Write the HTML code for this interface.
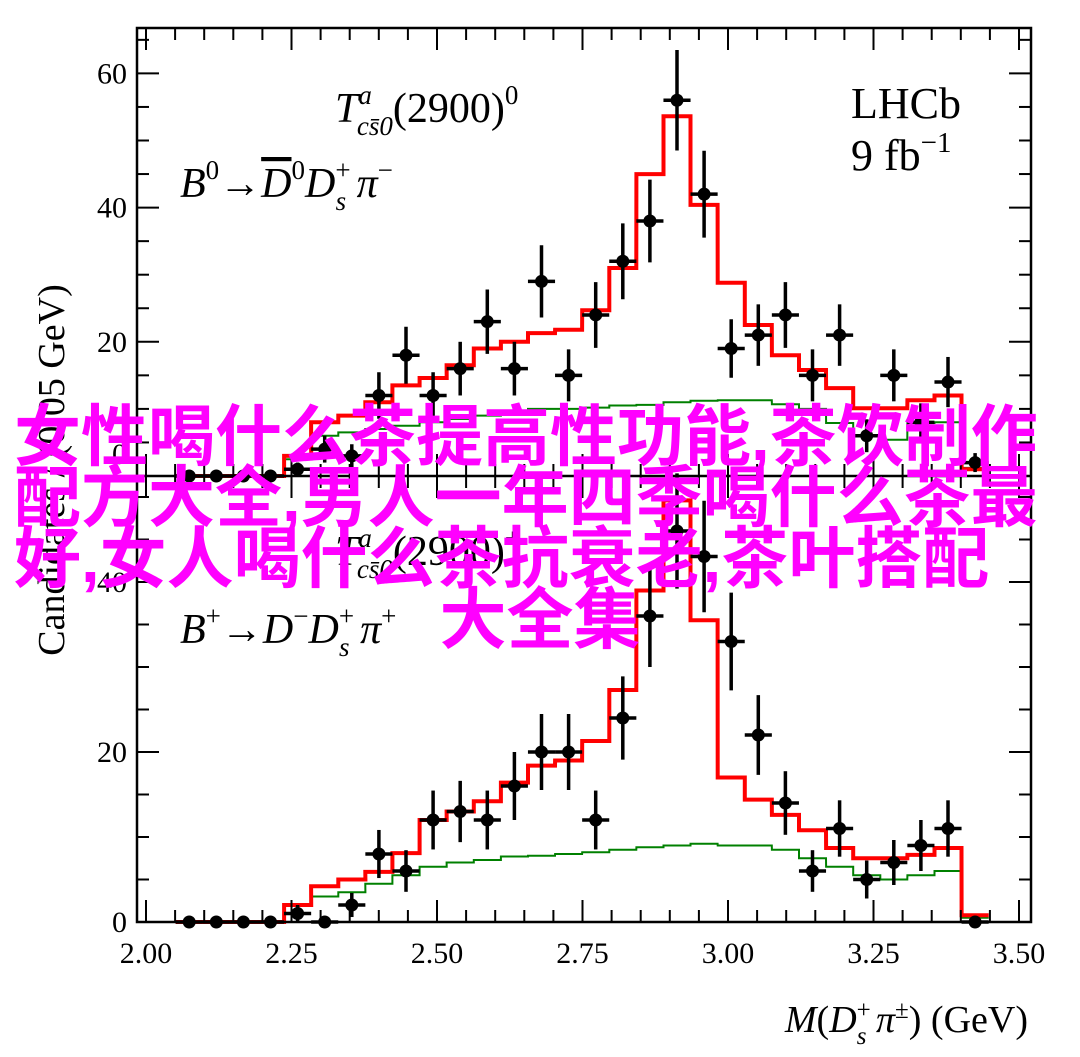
<!DOCTYPE html>
<html><head><meta charset="utf-8"><style>
html,body{margin:0;padding:0;background:#fff;width:1080px;height:1057px;overflow:hidden}
svg{position:absolute;left:0;top:0}
.ov{position:absolute;left:14px;top:407px;width:1066px;text-align:left;font-family:"Liberation Sans","Noto Sans CJK SC",sans-serif;font-weight:bold;font-size:67px;line-height:61px;color:#ff00ff;white-space:nowrap}
.c{display:block;text-align:center;width:1052px}
</style></head><body>
<svg id="s" width="1080" height="1057" xmlns="http://www.w3.org/2000/svg" font-family="Liberation Serif, serif"></svg>
<div class="ov">女性喝什么茶提高性功能,茶饮制作<br>配方大全,男人一年四季喝什么茶最<br>好,女人喝什么茶抗衰老,茶叶搭配<span class="c">大全集</span></div>
<script>
const s=document.getElementById('s');let h='';
const L=137,R=1031,T=28,M=476,B=922;
const xm=m=>146+(m-2)*582;
const cx=i=>189.2+27.1*i, hw=13.55;
const yt=v=>476-6.71*v, yb=v=>922-8.5*v;
function step(vals,yf,col,w){let d='';vals.forEach((v,i)=>{if(v===null)return;const a=cx(i)-hw,b=cx(i)+hw,y=yf(v);d+=(d?'L':'M')+a.toFixed(1)+','+y.toFixed(1)+'L'+b.toFixed(1)+','+y.toFixed(1);});h+=`<path d="${d}" fill="none" stroke="${col}" stroke-width="${w}"/>`;}
function pts(vals,yf){vals.forEach((v,i)=>{const x=cx(i),y=yf(v),e=Math.sqrt(v);h+=`<line x1="${x}" x2="${x}" y1="${yf(v+e)}" y2="${Math.min(yf(v-e),yf(0))}" stroke="#000" stroke-width="3.5"/><line x1="${x-hw}" x2="${x+hw}" y1="${y}" y2="${y}" stroke="#000" stroke-width="3.5"/><circle cx="${x}" cy="${y}" r="6.5" fill="#000"/>`;});}
const z=[0,0,0,0];
const tg=[...z,2.5,6,6.5,7,7.5,8,8.5,9,9.5,10,10,10.2,10.5,10.6,11,11.2,11.3,11.3,10.7,10,7.9,6.1,5.4,7.9,8,1.2];
const tr=[...z,3,8,9,11,13.5,14.6,16.5,19,20,21.3,21.8,24.7,31,45,53.6,40.4,28.8,22.5,18,15.8,13.1,10.1,10.1,11.3,12,1];
const tp=[0,0,0,0,1,4,3,12,18,12,16,23,16,29,15,24,32,38,56,42,19,21,24,15,21,6,15,8,14,2];
step(tg,yt,'#008000',2);step(tr,yt,'#ff0000',4);pts(tp,yt);
const bg=[...z,2,3,3.5,4.5,5.5,6.5,7,7.3,7.7,7.8,8,8.2,8.5,8.8,9,9.2,9,9,8.5,7.5,6.5,5.5,5,5.5,6,0.5];
const br=[...z,2,4.2,5,5.9,8.1,12,13,14.2,16.4,18.4,19,21.3,27.3,39,49.6,35.5,17,14.4,12.6,10.8,8.7,7.5,7.5,7.9,8.7,0.8];
const bp=[0,0,0,0,1,0,2,8,6,12,13,12,16,20,20,12,24,36,46,43,33,22,14,6,11,5,7,9,11,0];
step(bg,yb,'#008000',2);step(br,yb,'#ff0000',4);pts(bp,yb);
h+=`<rect x="${L}" y="${T}" width="${R-L}" height="${B-T}" fill="none" stroke="#000" stroke-width="2.5"/><line x1="${L}" x2="${R}" y1="${M}" y2="${M}" stroke="#000" stroke-width="2.5"/>`;
for(let k=0;k<=30;k++){const m=2+k*0.05,x=xm(m);if(x<L||x>R)continue;const big=k%5==0,l=big?22:12;
[M,B].forEach(y0=>{h+=`<line x1="${x}" x2="${x}" y1="${y0}" y2="${y0-l}" stroke="#000" stroke-width="2"/>`;});
[T,M].forEach(y0=>{h+=`<line x1="${x}" x2="${x}" y1="${y0}" y2="${y0+l}" stroke="#000" stroke-width="2"/>`;});
if(big)h+=`<text x="${x}" y="${B+41}" font-size="30" text-anchor="middle">${m.toFixed(2)}</text>`;}
for(let v=0;v<=65;v+=5){const y=yt(v);if(y<T)break;const l=v%20==0?22:12;h+=`<line x1="${L}" x2="${L+l}" y1="${y}" y2="${y}" stroke="#000" stroke-width="2"/><line x1="${R}" x2="${R-l}" y1="${y}" y2="${y}" stroke="#000" stroke-width="2"/>`;if(v%20==0&&v>0)h+=`<text x="${L-10}" y="${y+10}" font-size="30" text-anchor="end">${v}</text>`;}
h+=`<text x="${L-10}" y="${yt(0)-12}" font-size="30" text-anchor="end">0</text>`;
for(let v=0;v<=50;v+=5){const y=yb(v);if(y<M)break;const l=v%20==0?22:12;h+=`<line x1="${L}" x2="${L+l}" y1="${y}" y2="${y}" stroke="#000" stroke-width="2"/><line x1="${R}" x2="${R-l}" y1="${y}" y2="${y}" stroke="#000" stroke-width="2"/>`;if(v%20==0)h+=`<text x="${L-10}" y="${y+10}" font-size="30" text-anchor="end">${v}</text>`;}
h+=`<text transform="translate(64,470) rotate(-90)" font-size="38" text-anchor="middle">Candidates / (0.05 GeV)</text>`;
h+=`<text x="1028" y="1032" font-size="38" text-anchor="end"><tspan font-style="italic">M</tspan>(<tspan font-style="italic">D</tspan><tspan font-size="25" dy="-14">+</tspan><tspan font-size="25" font-style="italic" dx="-14" dy="26">s</tspan><tspan dy="-12" font-style="italic"> π</tspan><tspan font-size="25" dy="-14">±</tspan><tspan dy="14">) (GeV)</tspan></text>`;
function tlab(y,sup){return `<text x="335" y="${y}" font-size="42"><tspan font-style="italic">T</tspan><tspan font-size="27" font-style="italic" dy="-18">a</tspan><tspan font-size="27" font-style="italic" dx="-15" dy="31">cs̄0</tspan><tspan dy="-13">(2900)</tspan><tspan font-size="27" dy="-18">${sup}</tspan></text>`;}
h+=tlab(122,'0');h+=tlab(565,'+');
h+=`<text x="180" y="197" font-size="42" font-style="italic">B<tspan font-size="27" font-style="normal" dy="-18">0</tspan><tspan font-style="normal" dy="18">→</tspan><tspan text-decoration="overline">D</tspan><tspan font-size="27" font-style="normal" dy="-18">0</tspan><tspan dy="18">D</tspan><tspan font-size="27" font-style="normal" dy="-18">+</tspan><tspan font-size="27" dx="-15" dy="31">s</tspan><tspan dy="-13"> π</tspan><tspan font-size="27" font-style="normal" dy="-18">−</tspan></text>`;
h+=`<text x="180" y="643" font-size="42" font-style="italic">B<tspan font-size="27" font-style="normal" dy="-18">+</tspan><tspan font-style="normal" dy="18">→</tspan>D<tspan font-size="27" font-style="normal" dy="-18">−</tspan><tspan dy="18">D</tspan><tspan font-size="27" font-style="normal" dy="-18">+</tspan><tspan font-size="27" dx="-15" dy="31">s</tspan><tspan dy="-13"> π</tspan><tspan font-size="27" font-style="normal" dy="-18">+</tspan></text>`;
h+=`<text x="851" y="118" font-size="44">LHCb</text><text x="851" y="170" font-size="44">9 fb<tspan font-size="29" dy="-18">−1</tspan></text>`;
s.innerHTML=h;
</script>
</body></html>
